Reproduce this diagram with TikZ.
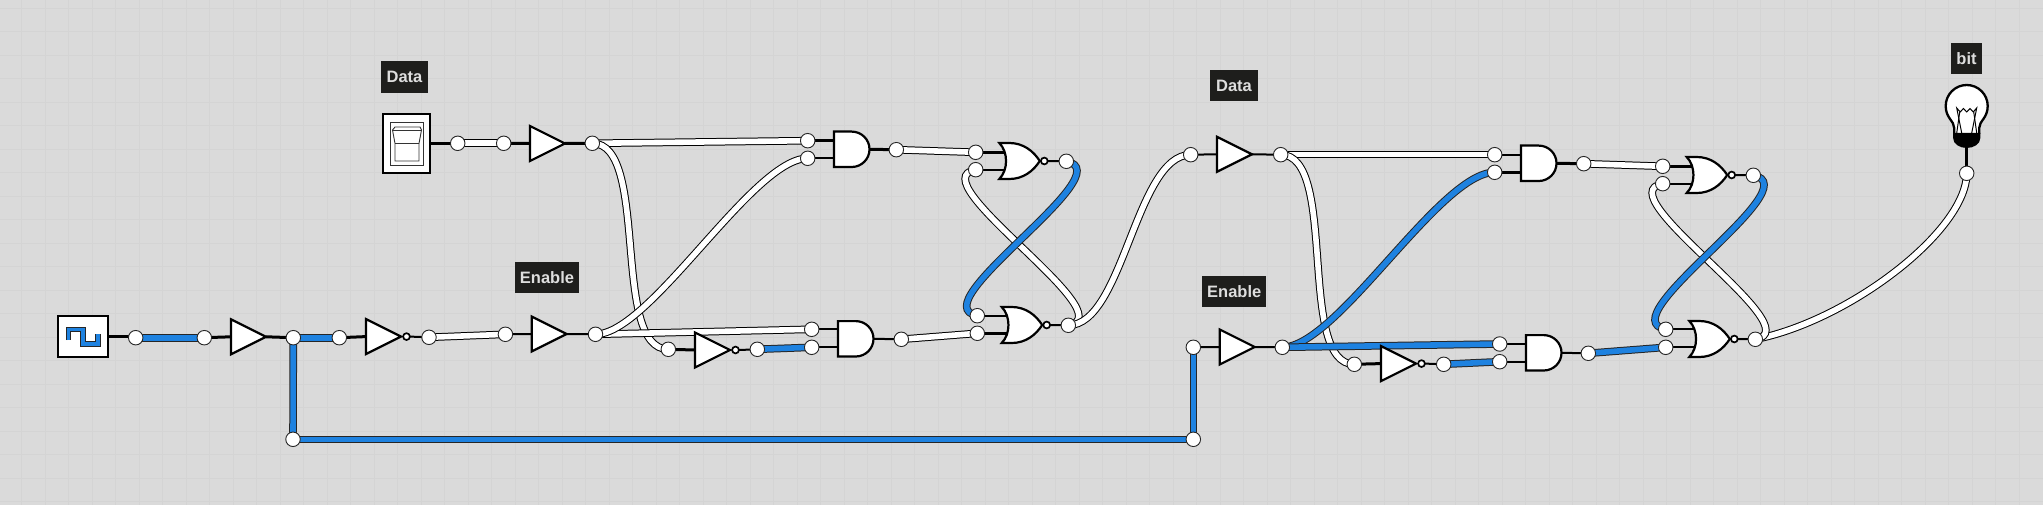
\documentclass[tikz,border=0pt]{standalone}
\usepackage{fontspec}
\setmainfont{Liberation Sans}
\definecolor{bgc}{HTML}{DADADA}
\definecolor{gridc}{HTML}{D4D4D4}
\definecolor{wireblue}{HTML}{1E82E0}
\definecolor{labelbg}{HTML}{1E1E1C}
\definecolor{labeltx}{HTML}{DEDEDE}
\pgfdeclarelayer{under}
\pgfdeclarelayer{wires}
\pgfsetlayers{under,wires,main}
\tikzset{
  x=1pt,y=-1pt,
  port/.style={circle,draw=black!85,line width=0.9pt,fill=white,minimum size=14.5pt,inner sep=0pt,outer sep=0pt},
  tag/.style={fill=labelbg,text=labeltx,font=\fontsize{16.5}{18}\selectfont\bfseries,inner sep=0pt,outer sep=0pt,minimum height=31.5pt},
  gateline/.style={draw=black,fill=white,line width=2.2pt,line join=miter},
  wirew/.style={draw=black,line width=1pt,double=white,double distance=5.6pt},
  wireb/.style={draw=black!85,line width=1pt,double=wireblue,double distance=5.6pt},
  thinstub/.style={draw=black,line width=2pt},
  fatstub/.style={draw=black,line width=3pt},
  bufpic/.pic={
    \draw[gateline] (0,-17.5)--(35,0)--(0,17.5)--cycle;
    \coordinate (-in) at (0,0);
    \coordinate (-out) at (35,0);
  },
  invpic/.pic={
    \draw[gateline] (0,-17.5)--(35,0)--(0,17.5)--cycle;
    \draw[draw=black,fill=white,line width=1.7pt] (40.5,0) circle[radius=3.4pt];
    \coordinate (-in) at (0,0);
    \coordinate (-out) at (44,0);
  },
  andpic/.pic={
    \draw[gateline] (0,-17.7)--(17.7,-17.7) .. controls (27.5,-17.7) and (35.5,-9.8) .. (35.5,0)
       .. controls (35.5,9.8) and (27.5,17.7) .. (17.7,17.7) -- (0,17.7) -- cycle;
    \coordinate (-a) at (0,-9);
    \coordinate (-b) at (0,9);
    \coordinate (-out) at (35.5,0);
  },
  norpic/.pic={
    \draw[gateline] (0,-18) .. controls (9,-9) and (9,9) .. (0,18) -- (10,18)
       .. controls (24,18) and (34,10) .. (40.5,0) .. controls (34,-10) and (24,-18) .. (10,-18) -- cycle;
    \draw[draw=black,fill=white,line width=1.7pt] (45,0) circle[radius=3.4pt];
    \coordinate (-a) at (6,-9);
    \coordinate (-b) at (6,9);
    \coordinate (-out) at (48,0);
  },
  bulbpic/.pic={
    \draw[draw=black,fill=white,line width=2.3pt] (-12.5,28) -- (-12.5,22) .. controls (-12.5,15) and (-21,12) .. (-21,0)
       .. controls (-21,-11.6) and (-11.6,-21) .. (0,-21) .. controls (11.6,-21) and (21,-11.6) .. (21,0)
       .. controls (21,12) and (12.5,15) .. (12.5,22) -- (12.5,28);
    \draw[black,line width=1pt] (-5,27) -- (-10,2) -- (-6.5,6) -- (-3.3,2.5) -- (0,6) -- (3.3,2.5) -- (6.5,6) -- (10,2) -- (5,27);
    \draw[black,line width=1pt] (-7,6) -- (-10,27) (7,6) -- (10,27);
    \fill[black] (-13.6,27) -- (13.6,27) -- (13.6,32) .. controls (13.6,38) and (7,42) .. (0,42)
       .. controls (-7,42) and (-13.6,38) .. (-13.6,32) -- cycle;
    \coordinate (-out) at (0,41);
  }
}
\begin{document}
\begin{tikzpicture}
\useasboundingbox (0,0) rectangle (2043,505);
\begin{pgfonlayer}{under}
  \fill[bgc] (0,0) rectangle (2043,505);
  \foreach \i in {0,...,86} {\draw[gridc,line width=1pt] ({21.5+23.5*\i-23.5},0) -- ({21.5+23.5*\i-23.5},505);}
  \foreach \i in {0,...,21} {\draw[gridc,line width=1pt] (0,{8.3+23.5*\i}) -- (2043,{8.3+23.5*\i});}
\end{pgfonlayer}

% labels
\node[tag,minimum width=47pt] (lda) at (404.5,76.8) {Data};
\node[tag,minimum width=63.5pt] (len) at (547,277.3) {Enable};
\node[tag,minimum width=48pt] (ldb) at (1234,85.5) {Data};
\node[tag,minimum width=63.7pt] (lea) at (1234.2,291.5) {Enable};
\node[tag,minimum width=31pt] (lbit) at (1966.5,58.3) {bit};

% clock
\node[draw=black,fill=white,line width=2pt,minimum width=49.5pt,minimum height=40.5pt,inner sep=0pt,outer sep=0pt] (clk) at (83,336.5) {};
\draw[wireb,line width=0.9pt,double distance=3.8pt,line join=miter] (68.5,340) -- (68.5,329.5) -- (83,329.5) -- (83,344) -- (98,344) -- (98,333.5);

% switch
\node[draw=black,fill=white,line width=2pt,minimum width=47pt,minimum height=59pt,inner sep=0pt,outer sep=0pt] (sw) at (406.7,143.3) {};
\draw[black!80,line width=0.9pt] (390.3,122.7) rectangle (423.7,165);
\draw[black!80,line width=0.9pt] (395,127) -- (420,127) -- (421.5,130) -- (419,143.5) -- (419,161) -- (395,161) -- (395,143.5) -- (392.5,130) -- cycle;
\draw[black!80,line width=0.9pt] (393,130) -- (421,130) (395,143.5) -- (419,143.5);

% gates
\pic (b0) at (231,336.8) {bufpic};
\pic (i0) at (366,336.6) {invpic};
\pic (b1) at (531.7,334) {bufpic};
\pic (b2) at (530,143.5) {bufpic};
\pic (i1) at (695,350) {invpic};
\pic (a1) at (834,149.3) {andpic};
\pic (a2) at (838,338.8) {andpic};
\pic (n1) at (999.3,161) {norpic};
\pic (n2) at (1001.7,325) {norpic};
\pic (b3) at (1217,154.3) {bufpic};
\pic (b4) at (1219.7,347) {bufpic};
\pic (i2) at (1381,363.6) {invpic};
\pic (a3) at (1521,163.3) {andpic};
\pic (a4) at (1526,352.8) {andpic};
\pic (n3) at (1686.7,175) {norpic};
\pic (n4) at (1689.3,339) {norpic};
\pic (lamp) at (1966.7,106) {bulbpic};

% ports
\foreach \n/\x/\y in {
 p1/135.7/337.7, p2/204.3/337.7, p3/293.3/337.7, p4/339.3/337.7, p5/429/337.3, p6/505.4/334.3, p7/595.5/334.3,
 p8/293/439.3, p9/1193.3/439.3, p10/1193.3/347.3,
 d1/457.7/143.3, d2/503.7/143.3, d3/592.3/143.3,
 i1a/668.3/349.3, i1b/757.3/349.3,
 a1a/807.7/140.7, a1b/807.7/158.3, a1c/896.3/149.7,
 a2a/811.7/329.3, a2b/811.7/347.3, a2c/901.3/339.3,
 n1a/975.7/152.3, n1b/975.7/169.7, n1c/1066.3/161.3,
 n2a/977.3/315.7, n2b/977.3/333.3, n2c/1068.3/325.3,
 e1/1190.7/154.7, e2/1280.7/154.7, e3/1282.3/347.3,
 i2a/1354.3/364.3, i2b/1443.7/364.3,
 a3a/1494.7/154.7, a3b/1494.7/172.3, a3c/1583.7/163.7,
 a4a/1499.7/344, a4b/1499.7/361.7, a4c/1588.3/353.3,
 n3a/1662.7/166.3, n3b/1662.7/183.7, n3c/1753.3/175.3,
 n4a/1665.7/329.3, n4b/1665.7/347.3, n4c/1755.3/339.3,
 q/1966.7/173.3} {
  \node[port] (\n) at (\x,\y) {};
}

\begin{pgfonlayer}{wires}
  % stubs
  \draw[fatstub] (clk.east) -- (clk.east -| p1.center);
  \draw[fatstub] (p2.center) -- (b0-in);
  \draw[fatstub] (b0-out) -- (p3.center);
  \draw[fatstub] (p4.center) -- (i0-in);
  \draw[thinstub] (i0-out) -- (p5.center);
  \draw[thinstub] (p6.center) -- (b1-in);
  \draw[thinstub] (b1-out) -- (p7.center);
  \draw[fatstub] (sw.east) -- (sw.east -| d1.center);
  \draw[fatstub] (d2.center) -- (b2-in);
  \draw[fatstub] (b2-out) -- (d3.center);
  \draw[fatstub] (i1a.center) -- (i1-in);
  \draw[thinstub] (i1-out) -- (i1b.center);
  \draw[fatstub] (a1a.center) -- (a1a.center -| a1-a);
  \draw[thinstub] (a1b.center) -- (a1b.center -| a1-b);
  \draw[fatstub] (a1-out) -- (a1c.center);
  \draw[thinstub] (a2a.center) -- (a2a.center -| a2-a);
  \draw[thinstub] (a2b.center) -- (a2b.center -| a2-b);
  \draw[thinstub] (a2-out) -- (a2c.center);
  \draw[fatstub] (n1a.center) -- (n1a.center -| n1-a);
  \draw[thinstub] (n1b.center) -- (n1b.center -| n1-b);
  \draw[thinstub] (n1-out) -- (n1c.center);
  \draw[thinstub] (n2a.center) -- (n2a.center -| n2-a);
  \draw[fatstub] (n2b.center) -- (n2b.center -| n2-b);
  \draw[thinstub] (n2-out) -- (n2c.center);
  \draw[thinstub] (e1.center) -- (b3-in);
  \draw[thinstub] (b3-out) -- (e2.center);
  \draw[thinstub] (p10.center) -- (b4-in);
  \draw[thinstub] (b4-out) -- (e3.center);
  \draw[fatstub] (i2a.center) -- (i2-in);
  \draw[thinstub] (i2-out) -- (i2b.center);
  \draw[thinstub] (a3a.center) -- (a3a.center -| a3-a);
  \draw[fatstub] (a3b.center) -- (a3b.center -| a3-b);
  \draw[fatstub] (a3-out) -- (a3c.center);
  \draw[thinstub] (a4a.center) -- (a4a.center -| a4-a);
  \draw[thinstub] (a4b.center) -- (a4b.center -| a4-b);
  \draw[thinstub] (a4-out) -- (a4c.center);
  \draw[fatstub] (n3a.center) -- (n3a.center -| n3-a);
  \draw[thinstub] (n3b.center) -- (n3b.center -| n3-b);
  \draw[thinstub] (n3-out) -- (n3c.center);
  \draw[thinstub] (n4a.center) -- (n4a.center -| n4-a);
  \draw[thinstub] (n4b.center) -- (n4b.center -| n4-b);
  \draw[thinstub] (n4-out) -- (n4c.center);
  \draw[fatstub] (lamp-out) -- (q.center);

  % white wires
  \draw[wirew] (p5.center) -- (p6.center);
  \draw[wirew] (d1.center) -- (d2.center);
  \draw[wirew] (d3.center) -- (a1a.center);
  \draw[wirew] (d3.center) .. controls +(58,0) and +(-58,0) .. (i1a.center);
  \draw[wirew] (p7.center) -- (a2a.center);
  \draw[wirew] (p7.center) .. controls +(55,0) and +(-55,0) .. (a1b.center);
  \draw[wirew] (a1c.center) -- (n1a.center);
  \draw[wirew] (a2c.center) -- (n2b.center);
  \draw[wirew] (n2c.center) .. controls +(59,-10) and +(-59,10) .. (n1b.center);
  \draw[wirew] (n2c.center) .. controls +(55,0) and +(-55,0) .. (e1.center);
  \draw[wirew] (e2.center) -- (a3a.center);
  \draw[wirew] (e2.center) .. controls +(58,0) and +(-58,0) .. (i2a.center);
  \draw[wirew] (a3c.center) -- (n3a.center);
  \draw[wirew] (n4c.center) .. controls +(95,-19) and +(0,57) .. (q.center);
  \draw[wirew] (n4c.center) .. controls +(59,-10) and +(-59,10) .. (n3b.center);

  % blue wires
  \draw[wireb] (p1.center) -- (p2.center);
  \draw[wireb] (p3.center) -- (p4.center);
  \draw[wireb] (p3.center) -- (p8.center);
  \draw[wireb] (p8.center) -- (p9.center);
  \draw[wireb] (p9.center) -- (p10.center);
  \draw[wireb] (i1b.center) -- (a2b.center);
  \draw[wireb] (n1c.center) .. controls +(59,11) and +(-59,-11) .. (n2a.center);
  \draw[wireb] (e3.center) .. controls +(55,0) and +(-55,0) .. (a3b.center);
  \draw[wireb] (e3.center) -- (a4a.center);
  \draw[wireb] (i2b.center) -- (a4b.center);
  \draw[wireb] (a4c.center) -- (n4b.center);
  \draw[wireb] (n3c.center) .. controls +(59,11) and +(-59,-11) .. (n4a.center);
\end{pgfonlayer}
\end{tikzpicture}
\end{document}
